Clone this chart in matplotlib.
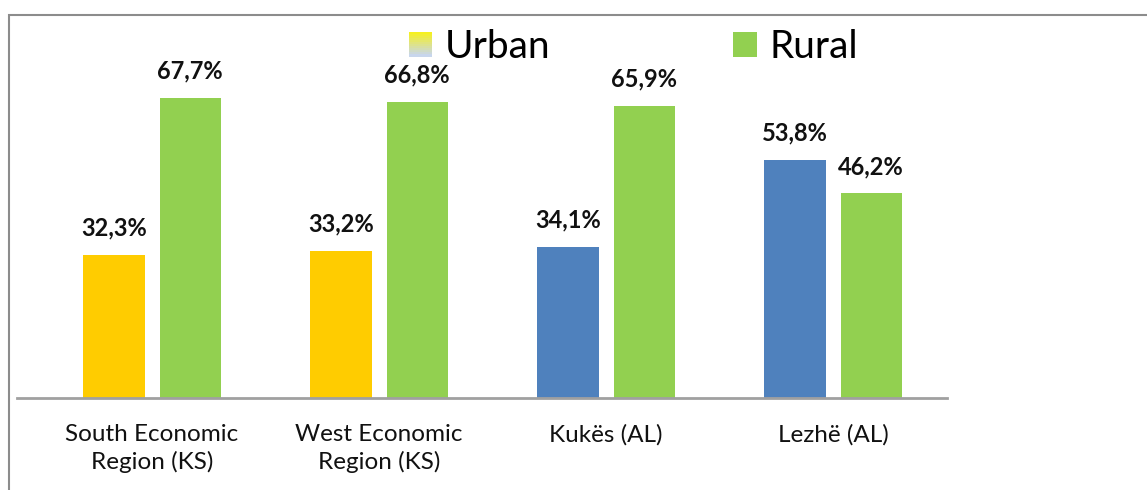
import numpy as np
import matplotlib
matplotlib.use("Agg")
import matplotlib.pyplot as plt
from matplotlib.patches import Rectangle
from matplotlib.legend_handler import HandlerBase
from matplotlib.colors import to_rgb

# data
regions = ["South Economic\nRegion (KS)", "West Economic\nRegion (KS)", "Kukës (AL)", "Lezhë (AL)"]
urban = [32.3, 33.2, 34.1, 53.8]
rural = [67.7, 66.8, 65.9, 46.2]

yellow = "#FFCC00"
blue = "#4F81BD"
green = "#92D050"
urbanColors = [yellow, yellow, blue, blue]

plt.rcParams["font.family"] = ["Lato", "DejaVu Sans"]


class GradientHandler(HandlerBase):
  # yellow on top fading into pale blue, like the original legend key
  def create_artists(self, legend, orig_handle, xdescent, ydescent, width, height, fontsize, trans):
    top = np.array(to_rgb("#F5F020"))
    bottom = np.array(to_rgb("#C8D6EC"))
    n = 12
    artists = []
    for i in range(n):
      t = i / (n - 1)
      c = top * (1 - t) + bottom * t
      y0 = -ydescent + height * (1 - (i + 1) / n)
      r = Rectangle((-xdescent, y0), width, height / n + 0.3, facecolor=c, edgecolor="none", transform=trans)
      artists.append(r)
    return artists


fig = plt.figure(figsize=(11.47, 4.9), dpi=100)

# outer frame of the chart area, running off the right and bottom edge
fig.patches.append(Rectangle((9 / 1147, -0.2), 1.2, 1 - 15 / 490 + 0.2, transform=fig.transFigure,
                             facecolor="none", edgecolor="#8C8C8C", linewidth=1.5))

ax = fig.add_axes([17 / 1147, 1 - 398 / 490, 930 / 1147, 378 / 490])

x = np.arange(len(regions))
w = 0.27
off = 0.168
barsU = ax.bar(x - off, urban, w, color=urbanColors)
barsR = ax.bar(x + off, rural, w, color=green)

for bars, vals in [(barsU, urban), (barsR, rural)]:
  for b, v in zip(bars, vals):
    ax.annotate(("%.1f%%" % v).replace(".", ","), (b.get_x() + b.get_width() / 2, v),
                xytext=(0, 11), textcoords="offset points", ha="center", va="bottom",
                fontsize=17, fontweight="bold", color="#111111")

ax.set_xlim(-0.595, 3.502)
ax.set_ylim(0, 85.3)
ax.set_xticks(x)
ax.set_xticklabels(regions, fontsize=17.5, color="#111111", linespacing=1.3)
ax.tick_params(axis="x", length=0, pad=19)
ax.set_yticks([])
for s in ["top", "right", "left"]:
  ax.spines[s].set_visible(False)
ax.spines["bottom"].set_color("#A0A0A0")
ax.spines["bottom"].set_linewidth(2)

urbanKey = Rectangle((0, 0), 1, 1)
ruralKey = Rectangle((0, 0), 1, 1, facecolor=green)
fig.legend([urbanKey, ruralKey], ["Urban", "Rural"], loc="center",
           bbox_to_anchor=((410 + 857) / 2 / 1147, 1 - 47 / 490), ncol=2, frameon=False,
           fontsize=28, handlelength=0.6, handleheight=0.6, handletextpad=0.33,
           columnspacing=4.7, handler_map={urbanKey: GradientHandler()})

fig.savefig("out.png", dpi=100, facecolor="white")
